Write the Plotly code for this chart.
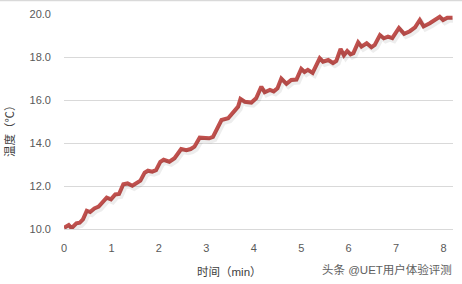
import plotly.graph_objects as go

# time (min)
time_min = [0.00, 0.10, 0.16, 0.26, 0.33, 0.40, 0.48, 0.55, 0.64, 0.73, 0.90, 0.99,
            1.08, 1.16, 1.25, 1.34, 1.44, 1.54, 1.61, 1.70, 1.77, 1.86, 1.94, 2.03,
            2.10, 2.22, 2.33, 2.47, 2.58, 2.67, 2.75, 2.86, 2.96, 3.06, 3.14, 3.24,
            3.32, 3.46, 3.56, 3.67, 3.72, 3.81, 3.95, 4.05, 4.16, 4.23, 4.34, 4.42,
            4.50, 4.58, 4.69, 4.79, 4.90, 5.00, 5.07, 5.14, 5.24, 5.39, 5.46, 5.57,
            5.67, 5.74, 5.83, 5.90, 5.97, 6.04, 6.10, 6.20, 6.27, 6.38, 6.48, 6.55,
            6.66, 6.74, 6.83, 6.92, 7.06, 7.17, 7.29, 7.40, 7.50, 7.58, 7.71, 7.82,
            7.92, 7.99, 8.08, 8.19]
# temperature (°C)
temp_c = [10.05, 10.18, 10.04, 10.26, 10.29, 10.45, 10.85, 10.79, 10.96, 11.04, 11.46, 11.38,
          11.61, 11.63, 12.08, 12.12, 12.01, 12.17, 12.25, 12.62, 12.71, 12.67, 12.74, 13.12,
          13.22, 13.13, 13.29, 13.72, 13.67, 13.72, 13.83, 14.25, 14.22, 14.22, 14.28, 14.76,
          15.07, 15.15, 15.38, 15.69, 16.05, 15.92, 15.88, 16.08, 16.62, 16.36, 16.47, 16.40,
          16.55, 17.00, 16.75, 16.93, 16.95, 17.45, 17.30, 17.40, 17.26, 17.94, 17.78, 17.86,
          17.72, 17.82, 18.37, 18.08, 18.28, 18.12, 18.18, 18.68, 18.48, 18.64, 18.45, 18.56,
          19.02, 18.87, 18.95, 18.88, 19.35, 19.08, 19.20, 19.38, 19.72, 19.42, 19.57, 19.72,
          19.87, 19.72, 19.83, 19.83]

x_ticks = [0, 1, 2, 3, 4, 5, 6, 7, 8]
y_ticks = [10.0, 12.0, 14.0, 16.0, 18.0, 20.0]
x_title = "时间（min）"
y_title = "温度（℃）"
watermark = "头条 @UET用户体验评测"

FONT = "Liberation Sans, Noto Sans CJK SC, sans-serif"
GRID = "#D9D9D9"
TICK = "#595959"

fig = go.Figure()
# soft shadow (same data on slightly shifted overlay axes)
fig.add_trace(go.Scatter(x=time_min, y=temp_c, mode="lines", xaxis="x2", yaxis="y2",
                         line=dict(color="rgba(0,0,0,0.07)", width=5), hoverinfo="skip",
                         showlegend=False))
fig.add_trace(go.Scatter(x=time_min, y=temp_c, mode="lines",
                         line=dict(color="#C0504D", width=4), showlegend=False))

fig.update_layout(
    width=462, height=284,
    margin=dict(l=64, r=9, t=14, b=55),
    paper_bgcolor="white", plot_bgcolor="white",
    font=dict(family=FONT, size=10, color=TICK),
    xaxis=dict(range=[0, 8.2], tickvals=x_ticks, ticktext=[str(v) for v in x_ticks],
               showgrid=False, zeroline=False, showline=True, linecolor=GRID, linewidth=1,
               ticks="", ticklabelstandoff=9, tickfont=dict(size=11, color=TICK)),
    yaxis=dict(range=[10, 20], tickvals=y_ticks, ticktext=[f"{v:.1f}" for v in y_ticks],
               showgrid=True, gridcolor=GRID, gridwidth=1, zeroline=False, showline=False,
               ticks="", ticklabelstandoff=12, tickfont=dict(size=11, color=TICK)),
    xaxis2=dict(range=[-0.04, 8.16], overlaying="x", visible=False),
    yaxis2=dict(range=[10.12, 20.12], overlaying="y", visible=False),
    annotations=[
        dict(text=x_title, xref="paper", yref="paper", x=(229 - 64) / 389, y=-(272 - 229) / 215,
             xanchor="center", yanchor="middle", showarrow=False,
             font=dict(size=11.5, color="#404040")),
        dict(text=y_title, xref="paper", yref="paper", x=-(64 - 10) / 389, y=1 - (128 - 14) / 215,
             xanchor="center", yanchor="middle", textangle=-90, showarrow=False,
             font=dict(size=11.5, color="#404040")),
        dict(text=watermark, xref="paper", yref="paper", x=(454 - 64) / 389, y=-(269 - 229) / 215,
             xanchor="right", yanchor="middle", showarrow=False,
             font=dict(size=11.5, color="#606060")),
    ],
    shapes=[dict(type="line", xref="paper", yref="paper", x0=-0.2, x1=1.1,
                 y0=1 + 13.5 / 215, y1=1 + 13.5 / 215, line=dict(color=GRID, width=1.5))],
)

fig.write_html("out.html")
